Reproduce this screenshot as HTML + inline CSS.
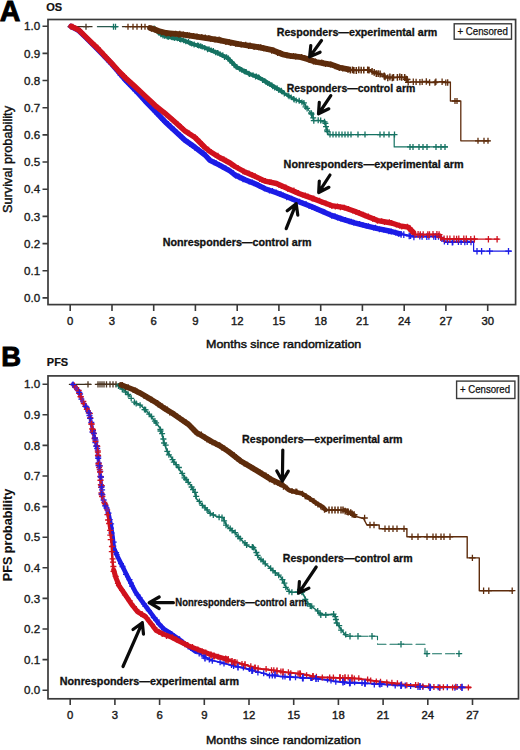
<!DOCTYPE html>
<html><head><meta charset="utf-8"><style>
html,body{margin:0;padding:0;background:#fff;width:520px;height:750px;overflow:hidden}
svg text{font-family:"Liberation Sans", sans-serif}
</style></head><body>
<svg width="520" height="750" viewBox="0 0 520 750" style="display:block;font-family:'Liberation Sans', sans-serif">
<rect width="520" height="750" fill="#fff"/>
<text x="-0.3" y="20.9" font-size="28.60" font-weight="bold" text-anchor="start" fill="#000"  stroke="#000" stroke-width="0.90">A</text>
<text x="46.3" y="10.9" font-size="11.00" font-weight="bold" text-anchor="start" fill="#111"  stroke="#111" stroke-width="0.20">OS</text>
<rect x="48.0" y="19.5" width="467.6" height="285.1" fill="none" stroke="#3a3a3a" stroke-width="1.7"/>
<text x="40.2" y="302.0" font-size="11.60" font-weight="normal" text-anchor="end" fill="#1a1a1a"  stroke="#1a1a1a" stroke-width="0.35">0.0</text>
<text x="40.2" y="274.8" font-size="11.60" font-weight="normal" text-anchor="end" fill="#1a1a1a"  stroke="#1a1a1a" stroke-width="0.35">0.1</text>
<text x="40.2" y="247.7" font-size="11.60" font-weight="normal" text-anchor="end" fill="#1a1a1a"  stroke="#1a1a1a" stroke-width="0.35">0.2</text>
<text x="40.2" y="220.5" font-size="11.60" font-weight="normal" text-anchor="end" fill="#1a1a1a"  stroke="#1a1a1a" stroke-width="0.35">0.3</text>
<text x="40.2" y="193.3" font-size="11.60" font-weight="normal" text-anchor="end" fill="#1a1a1a"  stroke="#1a1a1a" stroke-width="0.35">0.4</text>
<text x="40.2" y="166.1" font-size="11.60" font-weight="normal" text-anchor="end" fill="#1a1a1a"  stroke="#1a1a1a" stroke-width="0.35">0.5</text>
<text x="40.2" y="139.0" font-size="11.60" font-weight="normal" text-anchor="end" fill="#1a1a1a"  stroke="#1a1a1a" stroke-width="0.35">0.6</text>
<text x="40.2" y="111.8" font-size="11.60" font-weight="normal" text-anchor="end" fill="#1a1a1a"  stroke="#1a1a1a" stroke-width="0.35">0.7</text>
<text x="40.2" y="84.6" font-size="11.60" font-weight="normal" text-anchor="end" fill="#1a1a1a"  stroke="#1a1a1a" stroke-width="0.35">0.8</text>
<text x="40.2" y="57.5" font-size="11.60" font-weight="normal" text-anchor="end" fill="#1a1a1a"  stroke="#1a1a1a" stroke-width="0.35">0.9</text>
<text x="40.2" y="30.3" font-size="11.60" font-weight="normal" text-anchor="end" fill="#1a1a1a"  stroke="#1a1a1a" stroke-width="0.35">1.0</text>
<text x="70.2" y="324.9" font-size="11.30" font-weight="normal" text-anchor="middle" fill="#1a1a1a"  stroke="#1a1a1a" stroke-width="0.40">0</text>
<text x="112.0" y="324.9" font-size="11.30" font-weight="normal" text-anchor="middle" fill="#1a1a1a"  stroke="#1a1a1a" stroke-width="0.40">3</text>
<text x="153.7" y="324.9" font-size="11.30" font-weight="normal" text-anchor="middle" fill="#1a1a1a"  stroke="#1a1a1a" stroke-width="0.40">6</text>
<text x="195.4" y="324.9" font-size="11.30" font-weight="normal" text-anchor="middle" fill="#1a1a1a"  stroke="#1a1a1a" stroke-width="0.40">9</text>
<text x="237.2" y="324.9" font-size="11.30" font-weight="normal" text-anchor="middle" fill="#1a1a1a"  stroke="#1a1a1a" stroke-width="0.40">12</text>
<text x="278.9" y="324.9" font-size="11.30" font-weight="normal" text-anchor="middle" fill="#1a1a1a"  stroke="#1a1a1a" stroke-width="0.40">15</text>
<text x="320.7" y="324.9" font-size="11.30" font-weight="normal" text-anchor="middle" fill="#1a1a1a"  stroke="#1a1a1a" stroke-width="0.40">18</text>
<text x="362.4" y="324.9" font-size="11.30" font-weight="normal" text-anchor="middle" fill="#1a1a1a"  stroke="#1a1a1a" stroke-width="0.40">21</text>
<text x="404.2" y="324.9" font-size="11.30" font-weight="normal" text-anchor="middle" fill="#1a1a1a"  stroke="#1a1a1a" stroke-width="0.40">24</text>
<text x="445.9" y="324.9" font-size="11.30" font-weight="normal" text-anchor="middle" fill="#1a1a1a"  stroke="#1a1a1a" stroke-width="0.40">27</text>
<text x="487.7" y="324.9" font-size="11.30" font-weight="normal" text-anchor="middle" fill="#1a1a1a"  stroke="#1a1a1a" stroke-width="0.40">30</text>
<path d="M42.5 297.9H48.0M42.5 270.7H48.0M42.5 243.6H48.0M42.5 216.4H48.0M42.5 189.2H48.0M42.5 162.0H48.0M42.5 134.9H48.0M42.5 107.7H48.0M42.5 80.5H48.0M42.5 53.4H48.0M42.5 26.2H48.0M70.2 304.6V310.9M112.0 304.6V310.9M153.7 304.6V310.9M195.4 304.6V310.9M237.2 304.6V310.9M278.9 304.6V310.9M320.7 304.6V310.9M362.4 304.6V310.9M404.2 304.6V310.9M445.9 304.6V310.9M487.7 304.6V310.9" stroke="#3a3a3a" stroke-width="1.6" fill="none"/>
<text x="206.0" y="347.6" font-size="11.20" font-weight="normal" text-anchor="start" fill="#111" textLength="155.3" lengthAdjust="spacingAndGlyphs"  stroke="#111" stroke-width="0.45">Months since randomization</text>
<text transform="translate(11.6 159.5) rotate(-90)" x="0" y="0" font-size="12.20" font-weight="normal" text-anchor="middle" fill="#111" stroke="#111" stroke-width="0.40" textLength="107.0" lengthAdjust="spacingAndGlyphs">Survival probability</text>
<rect x="454.2" y="23.8" width="57.3" height="15.4" fill="#fff" stroke="#3a3a3a" stroke-width="1.4"/>
<text x="457.4" y="35.1" font-size="10.00" font-weight="normal" text-anchor="start" fill="#111" textLength="50.5" lengthAdjust="spacingAndGlyphs" stroke="#111" stroke-width="0.25">+ Censored</text>
<text x="1.2" y="366.3" font-size="27.40" font-weight="bold" text-anchor="start" fill="#000"  stroke="#000" stroke-width="0.90">B</text>
<text x="46.8" y="365.8" font-size="11.00" font-weight="bold" text-anchor="start" fill="#111"  stroke="#111" stroke-width="0.20">PFS</text>
<rect x="48.0" y="375.9" width="470.5" height="322.9" fill="none" stroke="#3a3a3a" stroke-width="1.7"/>
<text x="40.2" y="694.3" font-size="11.60" font-weight="normal" text-anchor="end" fill="#1a1a1a"  stroke="#1a1a1a" stroke-width="0.35">0.0</text>
<text x="40.2" y="663.7" font-size="11.60" font-weight="normal" text-anchor="end" fill="#1a1a1a"  stroke="#1a1a1a" stroke-width="0.35">0.1</text>
<text x="40.2" y="633.1" font-size="11.60" font-weight="normal" text-anchor="end" fill="#1a1a1a"  stroke="#1a1a1a" stroke-width="0.35">0.2</text>
<text x="40.2" y="602.5" font-size="11.60" font-weight="normal" text-anchor="end" fill="#1a1a1a"  stroke="#1a1a1a" stroke-width="0.35">0.3</text>
<text x="40.2" y="571.9" font-size="11.60" font-weight="normal" text-anchor="end" fill="#1a1a1a"  stroke="#1a1a1a" stroke-width="0.35">0.4</text>
<text x="40.2" y="541.3" font-size="11.60" font-weight="normal" text-anchor="end" fill="#1a1a1a"  stroke="#1a1a1a" stroke-width="0.35">0.5</text>
<text x="40.2" y="510.7" font-size="11.60" font-weight="normal" text-anchor="end" fill="#1a1a1a"  stroke="#1a1a1a" stroke-width="0.35">0.6</text>
<text x="40.2" y="480.1" font-size="11.60" font-weight="normal" text-anchor="end" fill="#1a1a1a"  stroke="#1a1a1a" stroke-width="0.35">0.7</text>
<text x="40.2" y="449.5" font-size="11.60" font-weight="normal" text-anchor="end" fill="#1a1a1a"  stroke="#1a1a1a" stroke-width="0.35">0.8</text>
<text x="40.2" y="418.9" font-size="11.60" font-weight="normal" text-anchor="end" fill="#1a1a1a"  stroke="#1a1a1a" stroke-width="0.35">0.9</text>
<text x="40.2" y="388.3" font-size="11.60" font-weight="normal" text-anchor="end" fill="#1a1a1a"  stroke="#1a1a1a" stroke-width="0.35">1.0</text>
<text x="70.2" y="719.1" font-size="11.30" font-weight="normal" text-anchor="middle" fill="#1a1a1a"  stroke="#1a1a1a" stroke-width="0.40">0</text>
<text x="114.9" y="719.1" font-size="11.30" font-weight="normal" text-anchor="middle" fill="#1a1a1a"  stroke="#1a1a1a" stroke-width="0.40">3</text>
<text x="159.6" y="719.1" font-size="11.30" font-weight="normal" text-anchor="middle" fill="#1a1a1a"  stroke="#1a1a1a" stroke-width="0.40">6</text>
<text x="204.3" y="719.1" font-size="11.30" font-weight="normal" text-anchor="middle" fill="#1a1a1a"  stroke="#1a1a1a" stroke-width="0.40">9</text>
<text x="249.0" y="719.1" font-size="11.30" font-weight="normal" text-anchor="middle" fill="#1a1a1a"  stroke="#1a1a1a" stroke-width="0.40">12</text>
<text x="293.7" y="719.1" font-size="11.30" font-weight="normal" text-anchor="middle" fill="#1a1a1a"  stroke="#1a1a1a" stroke-width="0.40">15</text>
<text x="338.4" y="719.1" font-size="11.30" font-weight="normal" text-anchor="middle" fill="#1a1a1a"  stroke="#1a1a1a" stroke-width="0.40">18</text>
<text x="383.1" y="719.1" font-size="11.30" font-weight="normal" text-anchor="middle" fill="#1a1a1a"  stroke="#1a1a1a" stroke-width="0.40">21</text>
<text x="427.8" y="719.1" font-size="11.30" font-weight="normal" text-anchor="middle" fill="#1a1a1a"  stroke="#1a1a1a" stroke-width="0.40">24</text>
<text x="472.5" y="719.1" font-size="11.30" font-weight="normal" text-anchor="middle" fill="#1a1a1a"  stroke="#1a1a1a" stroke-width="0.40">27</text>
<path d="M42.5 690.2H48.0M42.5 659.6H48.0M42.5 629.0H48.0M42.5 598.4H48.0M42.5 567.8H48.0M42.5 537.2H48.0M42.5 506.6H48.0M42.5 476.0H48.0M42.5 445.4H48.0M42.5 414.8H48.0M42.5 384.2H48.0M70.2 698.8V705.1M114.9 698.8V705.1M159.6 698.8V705.1M204.3 698.8V705.1M249.0 698.8V705.1M293.7 698.8V705.1M338.4 698.8V705.1M383.1 698.8V705.1M427.8 698.8V705.1M472.5 698.8V705.1" stroke="#3a3a3a" stroke-width="1.6" fill="none"/>
<text x="206.0" y="743.6" font-size="11.20" font-weight="normal" text-anchor="start" fill="#111" textLength="154.8" lengthAdjust="spacingAndGlyphs"  stroke="#111" stroke-width="0.45">Months since randomization</text>
<text transform="translate(11.6 535.0) rotate(-90)" x="0" y="0" font-size="12.40" font-weight="bold" text-anchor="middle" fill="#111" stroke="#111" stroke-width="0.10" textLength="92.4" lengthAdjust="spacingAndGlyphs">PFS probability</text>
<rect x="456.6" y="381.1" width="58.3" height="17.4" fill="#fff" stroke="#3a3a3a" stroke-width="1.4"/>
<text x="460.0" y="393.1" font-size="10.00" font-weight="normal" text-anchor="start" fill="#111" textLength="50.0" lengthAdjust="spacingAndGlyphs" stroke="#111" stroke-width="0.25">+ Censored</text>
<polyline points="68.0,26.7 92.0,26.7" fill="none" stroke="#3a3020" stroke-width="1.30" stroke-linejoin="round" stroke-linecap="round" opacity="1.00" />
<polyline points="97.5,26.7 117.5,26.7" fill="none" stroke="#2a5a50" stroke-width="1.30" stroke-linejoin="round" stroke-linecap="round" opacity="1.00" />
<polyline points="122.5,26.7 151.0,26.7" fill="none" stroke="#3a3020" stroke-width="1.30" stroke-linejoin="round" stroke-linecap="round" opacity="1.00" />
<path d="M68.0 26.7h6.0M71.0 23.7v6.0" stroke="#d0121e" stroke-width="1.3" fill="none"/>
<path d="M83.0 26.7h6.0M86.0 23.7v6.0" stroke="#4a3a2a" stroke-width="1.3" fill="none"/>
<path d="M110.5 26.7h6.0M113.5 23.7v6.0" stroke="#157262" stroke-width="1.3" fill="none"/>
<path d="M112.5 26.7h6.0M115.5 23.7v6.0" stroke="#157262" stroke-width="1.3" fill="none"/>
<path d="M125.0 26.7h6.0M128.0 23.7v6.0" stroke="#5e2c0c" stroke-width="1.3" fill="none"/>
<path d="M130.0 26.7h6.0M133.0 23.7v6.0" stroke="#5e2c0c" stroke-width="1.3" fill="none"/>
<path d="M134.0 26.7h6.0M137.0 23.7v6.0" stroke="#5e2c0c" stroke-width="1.3" fill="none"/>
<path d="M138.5 26.7h6.0M141.5 23.7v6.0" stroke="#5e2c0c" stroke-width="1.3" fill="none"/>
<path d="M142.0 26.7h6.0M145.0 23.7v6.0" stroke="#5e2c0c" stroke-width="1.3" fill="none"/>
<polyline points="154.0,28.5 158.0,31.8 162.0,35.0 170.0,37.3 181.5,39.6 193.1,44.2 204.6,47.7 216.2,52.3 227.7,58.1 236.5,66.9 248.1,73.3 259.6,77.9 271.2,85.0 281.5,91.2" fill="none" stroke="#157262" stroke-width="4.00" stroke-linejoin="round" stroke-linecap="round" opacity="1.00" />
<polyline points="281.5,91.2 287.3,95.2 293.1,98.7 298.8,101.0 303.5,102.7" fill="none" stroke="#157262" stroke-width="2.40" stroke-linejoin="round" stroke-linecap="round" opacity="1.00" />
<path d="M151.3 28.4h5.6M154.1 25.6v5.6M152.5 30.3h5.6M155.3 27.5v5.6M155.0 31.7h5.6M157.8 28.9v5.6M156.1 33.0h5.6M158.9 30.2v5.6M158.0 34.4h5.6M160.8 31.6v5.6M160.2 35.7h5.6M163.0 32.9v5.6M162.0 36.1h5.6M164.8 33.3v5.6M164.2 36.4h5.6M167.0 33.6v5.6M165.4 37.3h5.6M168.2 34.5v5.6M168.9 37.1h5.6M171.7 34.3v5.6M169.4 37.5h5.6M172.2 34.7v5.6M171.5 38.2h5.6M174.3 35.4v5.6M174.7 38.5h5.6M177.5 35.7v5.6M176.8 39.2h5.6M179.6 36.4v5.6M178.0 39.6h5.6M180.8 36.8v5.6M180.9 40.5h5.6M183.7 37.7v5.6M183.0 41.4h5.6M185.8 38.6v5.6M185.7 41.8h5.6M188.5 39.0v5.6M187.3 43.2h5.6M190.1 40.4v5.6M188.9 43.8h5.6M191.7 41.0v5.6M191.4 44.4h5.6M194.2 41.6v5.6M191.3 44.8h5.6M194.1 42.0v5.6M194.8 45.2h5.6M197.6 42.4v5.6M195.9 45.6h5.6M198.7 42.8v5.6M197.9 46.0h5.6M200.7 43.2v5.6M199.4 46.7h5.6M202.2 43.9v5.6M201.9 47.8h5.6M204.7 45.0v5.6M204.7 49.5h5.6M207.5 46.7v5.6M206.2 49.0h5.6M209.0 46.2v5.6M208.4 50.3h5.6M211.2 47.5v5.6M210.6 50.8h5.6M213.4 48.0v5.6M212.7 52.5h5.6M215.5 49.7v5.6M214.5 52.8h5.6M217.3 50.0v5.6M215.1 52.9h5.6M217.9 50.1v5.6M217.3 54.1h5.6M220.1 51.3v5.6M220.0 55.0h5.6M222.8 52.2v5.6M221.7 57.3h5.6M224.5 54.5v5.6M223.8 57.1h5.6M226.6 54.3v5.6M225.4 58.0h5.6M228.2 55.2v5.6M227.2 61.0h5.6M230.0 58.2v5.6M228.9 61.9h5.6M231.7 59.1v5.6M229.5 62.8h5.6M232.3 60.0v5.6M231.5 65.5h5.6M234.3 62.7v5.6M233.3 66.8h5.6M236.1 64.0v5.6M234.1 66.9h5.6M236.9 64.1v5.6M237.1 69.1h5.6M239.9 66.3v5.6M238.9 69.9h5.6M241.7 67.1v5.6M241.3 71.2h5.6M244.1 68.4v5.6M242.2 71.8h5.6M245.0 69.0v5.6M243.4 71.8h5.6M246.2 69.0v5.6M246.1 73.6h5.6M248.9 70.8v5.6M246.8 74.3h5.6M249.6 71.5v5.6M250.2 75.0h5.6M253.0 72.2v5.6M252.7 76.6h5.6M255.5 73.8v5.6M253.6 76.2h5.6M256.4 73.4v5.6M255.3 77.1h5.6M258.1 74.3v5.6M256.4 77.5h5.6M259.2 74.7v5.6M259.8 80.1h5.6M262.6 77.3v5.6M262.0 80.8h5.6M264.8 78.0v5.6M263.2 82.1h5.6M266.0 79.3v5.6M264.9 83.3h5.6M267.7 80.5v5.6M266.7 84.0h5.6M269.5 81.2v5.6M269.0 85.1h5.6M271.8 82.3v5.6M269.9 86.5h5.6M272.7 83.7v5.6M271.9 87.6h5.6M274.7 84.8v5.6M274.3 88.1h5.6M277.1 85.3v5.6M276.0 90.2h5.6M278.8 87.4v5.6M278.4 90.5h5.6M281.2 87.7v5.6M278.7 91.1h5.6M281.5 88.3v5.6M281.7 93.3h5.6M284.5 90.5v5.6M281.5 93.8h5.6M284.3 91.0v5.6M285.3 95.5h5.6M288.1 92.7v5.6M286.3 96.4h5.6M289.1 93.6v5.6M288.4 97.2h5.6M291.2 94.4v5.6M290.9 98.9h5.6M293.7 96.1v5.6M291.4 99.6h5.6M294.2 96.8v5.6M293.4 100.4h5.6M296.2 97.6v5.6M296.3 100.6h5.6M299.1 97.8v5.6M296.5 101.0h5.6M299.3 98.2v5.6M299.2 102.4h5.6M302.0 99.6v5.6" stroke="#157262" stroke-width="1.20" fill="none" opacity="1.00"/>
<polyline points="303.5,102.7 309.2,110.8 312.7,115.4 313.8,120.6 324.2,120.6 325.4,125.4 327.0,130.0 328.5,134.6" fill="none" stroke="#157262" stroke-width="1.20" stroke-linejoin="round" stroke-linecap="round" opacity="1.00" />
<path d="M300.9 102.9h6.0M303.9 99.9v6.0M302.5 106.8h6.0M305.5 103.8v6.0M304.1 108.4h6.0M307.1 105.4v6.0M308.1 113.0h6.0M311.1 110.0v6.0M308.6 114.2h6.0M311.6 111.2v6.0M310.2 117.8h6.0M313.2 114.8v6.0M310.8 120.7h6.0M313.8 117.7v6.0M315.2 120.3h6.0M318.2 117.3v6.0M317.7 120.6h6.0M320.7 117.6v6.0M321.5 121.8h6.0M324.5 118.8v6.0M322.4 123.4h6.0M325.4 120.4v6.0M323.0 126.7h6.0M326.0 123.7v6.0M324.0 130.1h6.0M327.0 127.1v6.0M324.4 131.6h6.0M327.4 128.6v6.0" stroke="#157262" stroke-width="1.30" fill="none" opacity="1.00"/>
<polyline points="328.5,134.6 394.2,134.6 394.2,146.9 447.5,146.9" fill="none" stroke="#157262" stroke-width="1.20" stroke-linejoin="round" stroke-linecap="round" opacity="1.00" />
<path d="M327.0 134.6h6.0M330.0 131.6v6.0" stroke="#157262" stroke-width="1.3" fill="none"/>
<path d="M330.0 134.6h6.0M333.0 131.6v6.0" stroke="#157262" stroke-width="1.3" fill="none"/>
<path d="M333.0 134.6h6.0M336.0 131.6v6.0" stroke="#157262" stroke-width="1.3" fill="none"/>
<path d="M336.0 134.6h6.0M339.0 131.6v6.0" stroke="#157262" stroke-width="1.3" fill="none"/>
<path d="M339.0 134.6h6.0M342.0 131.6v6.0" stroke="#157262" stroke-width="1.3" fill="none"/>
<path d="M342.0 134.6h6.0M345.0 131.6v6.0" stroke="#157262" stroke-width="1.3" fill="none"/>
<path d="M345.0 134.6h6.0M348.0 131.6v6.0" stroke="#157262" stroke-width="1.3" fill="none"/>
<path d="M348.0 134.6h6.0M351.0 131.6v6.0" stroke="#157262" stroke-width="1.3" fill="none"/>
<path d="M355.0 134.6h6.0M358.0 131.6v6.0" stroke="#157262" stroke-width="1.3" fill="none"/>
<path d="M362.0 134.6h6.0M365.0 131.6v6.0" stroke="#157262" stroke-width="1.3" fill="none"/>
<path d="M377.0 134.6h6.0M380.0 131.6v6.0" stroke="#157262" stroke-width="1.3" fill="none"/>
<path d="M381.0 134.6h6.0M384.0 131.6v6.0" stroke="#157262" stroke-width="1.3" fill="none"/>
<path d="M386.0 134.6h6.0M389.0 131.6v6.0" stroke="#157262" stroke-width="1.3" fill="none"/>
<path d="M391.5 134.6h6.0M394.5 131.6v6.0" stroke="#157262" stroke-width="1.3" fill="none"/>
<path d="M407.0 146.9h6.0M410.0 143.9v6.0" stroke="#157262" stroke-width="1.3" fill="none"/>
<path d="M410.0 146.9h6.0M413.0 143.9v6.0" stroke="#157262" stroke-width="1.3" fill="none"/>
<path d="M416.0 146.9h6.0M419.0 143.9v6.0" stroke="#157262" stroke-width="1.3" fill="none"/>
<path d="M420.0 146.9h6.0M423.0 143.9v6.0" stroke="#157262" stroke-width="1.3" fill="none"/>
<path d="M424.0 146.9h6.0M427.0 143.9v6.0" stroke="#157262" stroke-width="1.3" fill="none"/>
<path d="M433.0 146.9h6.0M436.0 143.9v6.0" stroke="#157262" stroke-width="1.3" fill="none"/>
<path d="M438.0 146.9h6.0M441.0 143.9v6.0" stroke="#157262" stroke-width="1.3" fill="none"/>
<path d="M442.0 146.9h6.0M445.0 143.9v6.0" stroke="#157262" stroke-width="1.3" fill="none"/>
<polyline points="150.0,28.0 154.0,29.2 158.5,31.0 166.2,33.0 170.0,33.3 181.5,34.4 193.1,36.2 204.6,37.9 216.2,39.6 227.7,41.9 241.0,44.5 259.6,47.3 271.2,49.8 282.7,54.3 290.0,55.8 300.8,57.2 307.0,58.9 316.2,62.0 331.5,64.6 339.2,67.5 348.5,69.4" fill="none" stroke="#5e2c0c" stroke-width="5.80" stroke-linejoin="round" stroke-linecap="round" opacity="1.00" />
<path d="M148.5 28.7h6.0M151.5 25.7v6.0M152.4 29.4h6.0M155.4 26.4v6.0M155.6 30.9h6.0M158.6 27.9v6.0M158.7 32.5h6.0M161.7 29.5v6.0M162.8 33.2h6.0M165.8 30.2v6.0M163.5 33.5h6.0M166.5 30.5v6.0M167.7 33.9h6.0M170.7 30.9v6.0M172.7 33.7h6.0M175.7 30.7v6.0M175.9 34.7h6.0M178.9 31.7v6.0M176.8 33.8h6.0M179.8 30.8v6.0M180.4 34.4h6.0M183.4 31.4v6.0M184.3 35.0h6.0M187.3 32.0v6.0M186.4 35.4h6.0M189.4 32.4v6.0M190.6 36.1h6.0M193.6 33.1v6.0M194.0 36.5h6.0M197.0 33.5v6.0M198.8 37.1h6.0M201.8 34.1v6.0M202.3 37.5h6.0M205.3 34.5v6.0M205.9 38.0h6.0M208.9 35.0v6.0M207.6 38.8h6.0M210.6 35.8v6.0M212.0 39.5h6.0M215.0 36.5v6.0M216.1 39.6h6.0M219.1 36.6v6.0M217.7 40.3h6.0M220.7 37.3v6.0M222.9 41.9h6.0M225.9 38.9v6.0M226.3 42.3h6.0M229.3 39.3v6.0M227.8 43.0h6.0M230.8 40.0v6.0M232.9 43.9h6.0M235.9 40.9v6.0M235.0 44.0h6.0M238.0 41.0v6.0M238.2 44.4h6.0M241.2 41.4v6.0M242.7 44.8h6.0M245.7 41.8v6.0M245.6 46.0h6.0M248.6 43.0v6.0M247.1 45.5h6.0M250.1 42.5v6.0M251.1 47.0h6.0M254.1 44.0v6.0M255.6 47.3h6.0M258.6 44.3v6.0M257.7 47.3h6.0M260.7 44.3v6.0M260.6 48.2h6.0M263.6 45.2v6.0M264.1 48.9h6.0M267.1 45.9v6.0M268.7 50.7h6.0M271.7 47.7v6.0M270.8 50.6h6.0M273.8 47.6v6.0M274.6 53.0h6.0M277.6 50.0v6.0M277.5 53.3h6.0M280.5 50.3v6.0M279.1 54.1h6.0M282.1 51.1v6.0M283.9 55.2h6.0M286.9 52.2v6.0M287.8 56.0h6.0M290.8 53.0v6.0M290.6 56.1h6.0M293.6 53.1v6.0M292.7 56.5h6.0M295.7 53.5v6.0M298.7 57.0h6.0M301.7 54.0v6.0M301.7 58.0h6.0M304.7 55.0v6.0M305.8 59.5h6.0M308.8 56.5v6.0M306.7 59.9h6.0M309.7 56.9v6.0M310.4 61.4h6.0M313.4 58.4v6.0M312.5 61.6h6.0M315.5 58.6v6.0M318.8 62.4h6.0M321.8 59.4v6.0M320.3 63.3h6.0M323.3 60.3v6.0M322.4 64.1h6.0M325.4 61.1v6.0M327.7 64.5h6.0M330.7 61.5v6.0M332.1 66.2h6.0M335.1 63.2v6.0M334.3 67.0h6.0M337.3 64.0v6.0M336.3 67.9h6.0M339.3 64.9v6.0M339.7 68.5h6.0M342.7 65.5v6.0M345.0 69.8h6.0M348.0 66.8v6.0" stroke="#5e2c0c" stroke-width="1.30" fill="none" opacity="1.00"/>
<polyline points="348.5,69.4 355.4,70.4 370.8,70.4 375.4,73.5 383.0,75.0 386.2,77.3 406.2,77.3 407.7,81.9 450.4,82.1 450.4,101.0 460.8,101.0 460.8,140.8 489.2,140.8" fill="none" stroke="#5e2c0c" stroke-width="1.30" stroke-linejoin="round" stroke-linecap="round" opacity="1.00" />
<path d="M346.9 70.2h6.8M350.3 66.8v6.8M349.1 69.8h6.8M352.5 66.4v6.8M350.5 70.4h6.8M353.9 67.0v6.8M352.9 70.5h6.8M356.3 67.1v6.8M355.4 69.9h6.8M358.8 66.5v6.8M357.8 70.1h6.8M361.2 66.7v6.8M360.4 70.2h6.8M363.8 66.8v6.8M364.3 69.8h6.8M367.7 66.4v6.8M365.6 70.1h6.8M369.0 66.7v6.8M368.7 71.4h6.8M372.1 68.0v6.8M370.8 72.3h6.8M374.2 68.9v6.8M372.9 73.6h6.8M376.3 70.2v6.8M374.8 73.6h6.8M378.2 70.2v6.8M376.7 74.0h6.8M380.1 70.6v6.8M380.8 76.0h6.8M384.2 72.6v6.8M381.6 76.8h6.8M385.0 73.4v6.8M384.4 77.9h6.8M387.8 74.5v6.8M386.5 77.0h6.8M389.9 73.6v6.8M388.9 77.8h6.8M392.3 74.4v6.8M390.1 77.4h6.8M393.5 74.0v6.8M394.0 77.3h6.8M397.4 73.9v6.8M396.4 76.9h6.8M399.8 73.5v6.8M398.3 77.3h6.8M401.7 73.9v6.8M401.3 77.5h6.8M404.7 74.1v6.8M402.9 79.2h6.8M406.3 75.8v6.8M403.7 79.4h6.8M407.1 76.0v6.8" stroke="#5e2c0c" stroke-width="1.50" fill="none" opacity="1.00"/>
<path d="M405.0 82.3h6.4M408.2 79.1v6.4M410.1 81.8h6.4M413.3 78.6v6.4M412.9 81.9h6.4M416.1 78.7v6.4M416.7 82.1h6.4M419.9 78.9v6.4M419.0 81.9h6.4M422.2 78.7v6.4M423.1 81.5h6.4M426.3 78.3v6.4M426.4 82.5h6.4M429.6 79.3v6.4M431.8 82.6h6.4M435.0 79.4v6.4M432.7 81.8h6.4M435.9 78.6v6.4M438.9 81.7h6.4M442.1 78.5v6.4M442.6 82.6h6.4M445.8 79.4v6.4M444.5 82.5h6.4M447.7 79.3v6.4" stroke="#5e2c0c" stroke-width="1.30" fill="none" opacity="1.00"/>
<path d="M452.0 101.0h6.0M455.0 98.0v6.0" stroke="#5e2c0c" stroke-width="1.3" fill="none"/>
<path d="M454.0 101.0h6.0M457.0 98.0v6.0" stroke="#5e2c0c" stroke-width="1.3" fill="none"/>
<path d="M475.0 140.8h6.0M478.0 137.8v6.0" stroke="#5e2c0c" stroke-width="1.3" fill="none"/>
<path d="M481.0 140.8h6.0M484.0 137.8v6.0" stroke="#5e2c0c" stroke-width="1.3" fill="none"/>
<path d="M485.0 140.8h6.0M488.0 137.8v6.0" stroke="#5e2c0c" stroke-width="1.3" fill="none"/>
<polyline points="71.0,26.3 78.7,30.5 85.0,36.7 92.5,44.2 97.5,49.2 105.0,56.8 111.5,63.7 118.0,71.2 125.0,79.5 135.0,89.8 145.0,100.8 155.0,111.2 165.0,121.7 175.0,131.0 185.0,140.3 195.0,147.3 205.0,155.0 210.0,160.3 220.0,165.3 230.0,171.0 235.0,175.0 245.0,179.7 255.0,183.7 265.0,188.7 276.5,192.7 288.1,197.3 299.6,201.9 311.2,206.5 322.7,211.5 331.5,215.4 343.1,219.4 354.6,222.9 366.2,225.8 377.7,228.7 391.5,231.5 400.0,233.8" fill="none" stroke="#1c1ce6" stroke-width="5.40" stroke-linejoin="round" stroke-linecap="round" opacity="1.00" />
<path d="M69.7 27.0h5.6M72.5 24.2v5.6M74.5 29.7h5.6M77.3 26.9v5.6M76.8 31.0h5.6M79.6 28.2v5.6M78.7 33.4h5.6M81.5 30.6v5.6M81.6 35.9h5.6M84.4 33.1v5.6M82.9 37.7h5.6M85.7 34.9v5.6M86.5 40.8h5.6M89.3 38.0v5.6M88.5 43.1h5.6M91.3 40.3v5.6M92.2 46.1h5.6M95.0 43.3v5.6M94.6 49.1h5.6M97.4 46.3v5.6M96.0 50.2h5.6M98.8 47.4v5.6M98.6 52.3h5.6M101.4 49.5v5.6M103.0 56.9h5.6M105.8 54.1v5.6M102.9 58.2h5.6M105.7 55.4v5.6M106.3 61.9h5.6M109.1 59.1v5.6M108.7 63.3h5.6M111.5 60.5v5.6M110.7 66.2h5.6M113.5 63.4v5.6M114.5 70.7h5.6M117.3 67.9v5.6M116.7 73.4h5.6M119.5 70.6v5.6M117.6 75.1h5.6M120.4 72.3v5.6M120.7 77.7h5.6M123.5 74.9v5.6M122.3 80.0h5.6M125.1 77.2v5.6M126.4 83.8h5.6M129.2 81.0v5.6M128.3 86.1h5.6M131.1 83.3v5.6M130.6 87.4h5.6M133.4 84.6v5.6M132.2 90.7h5.6M135.0 87.9v5.6M135.4 92.4h5.6M138.2 89.6v5.6M139.3 97.2h5.6M142.1 94.4v5.6M140.5 98.8h5.6M143.3 96.0v5.6M142.0 100.5h5.6M144.8 97.7v5.6M146.2 105.1h5.6M149.0 102.3v5.6M149.8 107.6h5.6M152.6 104.8v5.6M151.1 109.1h5.6M153.9 106.3v5.6M152.1 111.7h5.6M154.9 108.9v5.6M155.3 114.0h5.6M158.1 111.2v5.6M156.7 116.4h5.6M159.5 113.6v5.6M160.1 120.2h5.6M162.9 117.4v5.6M161.8 121.5h5.6M164.6 118.7v5.6M165.7 123.9h5.6M168.5 121.1v5.6M167.8 127.4h5.6M170.6 124.6v5.6M171.6 129.6h5.6M174.4 126.8v5.6M174.1 132.8h5.6M176.9 130.0v5.6M177.5 135.2h5.6M180.3 132.4v5.6M179.2 137.7h5.6M182.0 134.9v5.6M181.3 139.4h5.6M184.1 136.6v5.6M185.3 142.2h5.6M188.1 139.4v5.6M187.0 144.1h5.6M189.8 141.3v5.6M189.9 145.6h5.6M192.7 142.8v5.6M191.8 147.7h5.6M194.6 144.9v5.6M196.3 150.2h5.6M199.1 147.4v5.6M201.0 153.1h5.6M203.8 150.3v5.6M200.8 154.2h5.6M203.6 151.4v5.6M205.2 158.1h5.6M208.0 155.3v5.6M207.3 160.1h5.6M210.1 157.3v5.6M211.3 162.4h5.6M214.1 159.6v5.6M213.2 162.7h5.6M216.0 159.9v5.6M216.5 165.1h5.6M219.3 162.3v5.6M219.6 166.8h5.6M222.4 164.0v5.6M223.0 168.3h5.6M225.8 165.5v5.6M225.9 170.2h5.6M228.7 167.4v5.6M230.7 173.0h5.6M233.5 170.2v5.6M232.7 175.7h5.6M235.5 172.9v5.6M236.1 176.4h5.6M238.9 173.6v5.6M236.6 177.4h5.6M239.4 174.6v5.6M240.2 179.5h5.6M243.0 176.7v5.6M246.3 181.7h5.6M249.1 178.9v5.6M249.5 182.2h5.6M252.3 179.4v5.6M251.3 183.5h5.6M254.1 180.7v5.6M255.7 185.2h5.6M258.5 182.4v5.6M256.6 186.0h5.6M259.4 183.2v5.6M261.5 188.5h5.6M264.3 185.7v5.6M266.6 190.6h5.6M269.4 187.8v5.6M269.7 190.8h5.6M272.5 188.0v5.6M273.4 192.2h5.6M276.2 189.4v5.6M276.8 193.7h5.6M279.6 190.9v5.6M278.2 194.0h5.6M281.0 191.2v5.6M280.5 195.2h5.6M283.3 192.4v5.6M283.9 197.4h5.6M286.7 194.6v5.6M288.9 198.5h5.6M291.7 195.7v5.6M292.5 200.8h5.6M295.3 198.0v5.6M296.8 201.6h5.6M299.6 198.8v5.6M299.9 203.2h5.6M302.7 200.4v5.6M303.2 203.7h5.6M306.0 200.9v5.6M306.3 206.1h5.6M309.1 203.3v5.6M309.2 207.2h5.6M312.0 204.4v5.6M311.9 208.0h5.6M314.7 205.2v5.6M313.7 208.7h5.6M316.5 205.9v5.6M320.3 211.5h5.6M323.1 208.7v5.6M321.9 212.0h5.6M324.7 209.2v5.6M327.2 214.5h5.6M330.0 211.7v5.6M329.0 215.9h5.6M331.8 213.1v5.6M332.2 216.0h5.6M335.0 213.2v5.6M334.7 217.6h5.6M337.5 214.8v5.6M338.0 218.6h5.6M340.8 215.8v5.6M342.6 219.9h5.6M345.4 217.1v5.6M346.4 221.5h5.6M349.2 218.7v5.6M348.5 221.5h5.6M351.3 218.7v5.6M351.0 222.6h5.6M353.8 219.8v5.6M356.8 223.7h5.6M359.6 220.9v5.6M360.1 224.7h5.6M362.9 221.9v5.6M363.5 225.8h5.6M366.3 223.0v5.6M365.7 226.0h5.6M368.5 223.2v5.6M370.8 227.7h5.6M373.6 224.9v5.6M372.7 227.6h5.6M375.5 224.8v5.6M376.6 229.4h5.6M379.4 226.6v5.6M380.9 229.7h5.6M383.7 226.9v5.6M386.0 231.5h5.6M388.8 228.7v5.6M388.5 231.6h5.6M391.3 228.8v5.6M392.8 232.6h5.6M395.6 229.8v5.6M395.6 233.9h5.6M398.4 231.1v5.6" stroke="#1c1ce6" stroke-width="1.20" fill="none" opacity="1.00"/>
<polyline points="400.0,233.8 413.5,236.5 440.0,236.5 445.0,241.8 473.6,241.8" fill="none" stroke="#1c1ce6" stroke-width="2.20" stroke-linejoin="round" stroke-linecap="round" opacity="1.00" />
<path d="M397.7 234.3h6.8M401.1 230.9v6.8M400.4 234.6h6.8M403.8 231.2v6.8M405.8 235.9h6.8M409.2 232.5v6.8M407.2 235.7h6.8M410.6 232.3v6.8M410.5 236.8h6.8M413.9 233.4v6.8M416.4 236.2h6.8M419.8 232.8v6.8M418.7 236.4h6.8M422.1 233.0v6.8M423.4 236.6h6.8M426.8 233.2v6.8M425.5 236.3h6.8M428.9 232.9v6.8M430.4 236.3h6.8M433.8 232.9v6.8M432.3 236.7h6.8M435.7 233.3v6.8M435.1 236.3h6.8M438.5 232.9v6.8M437.3 237.4h6.8M440.7 234.0v6.8M441.0 241.1h6.8M444.4 237.7v6.8M444.3 241.6h6.8M447.7 238.2v6.8M448.9 242.0h6.8M452.3 238.6v6.8M449.4 241.8h6.8M452.8 238.4v6.8M455.0 241.5h6.8M458.4 238.1v6.8M457.7 241.6h6.8M461.1 238.2v6.8M461.4 241.8h6.8M464.8 238.4v6.8M463.8 241.7h6.8M467.2 238.3v6.8M467.6 241.8h6.8M471.0 238.4v6.8" stroke="#1c1ce6" stroke-width="1.30" fill="none" opacity="1.00"/>
<polyline points="473.6,241.8 473.6,251.2 511.2,251.2" fill="none" stroke="#1c1ce6" stroke-width="1.20" stroke-linejoin="round" stroke-linecap="round" opacity="1.00" />
<path d="M473.8 251.2h6.4M477.0 248.0v6.4" stroke="#1c1ce6" stroke-width="1.3" fill="none"/>
<path d="M478.4 251.2h6.4M481.6 248.0v6.4" stroke="#1c1ce6" stroke-width="1.3" fill="none"/>
<path d="M486.5 251.2h6.4M489.7 248.0v6.4" stroke="#1c1ce6" stroke-width="1.3" fill="none"/>
<path d="M505.3 251.2h6.4M508.5 248.0v6.4" stroke="#1c1ce6" stroke-width="1.3" fill="none"/>
<polyline points="71.0,26.3 78.7,30.0 85.0,36.2 92.5,43.5 97.5,48.3 100.0,50.8 105.0,56.3 111.5,63.2 118.0,70.3 125.0,77.5 135.0,86.5 145.0,95.9 155.0,105.3 165.0,113.3 175.0,122.0 185.0,131.0 195.0,137.5 205.0,147.5 210.0,151.5 220.0,157.7 230.0,163.0 235.0,166.5 245.0,172.0 255.0,176.3 265.0,181.2 276.5,183.5 288.1,188.7 299.6,193.8 311.2,197.9 322.7,202.2 331.5,205.6 343.1,207.3 354.6,211.3 366.2,216.0 377.7,220.6 391.5,223.0 400.0,225.8 408.0,227.1 413.5,232.5" fill="none" stroke="#d0121e" stroke-width="5.40" stroke-linejoin="round" stroke-linecap="round" opacity="1.00" />
<path d="M70.0 26.6h5.6M72.8 23.8v5.6M72.9 28.3h5.6M75.7 25.5v5.6M76.1 30.4h5.6M78.9 27.6v5.6M78.8 32.4h5.6M81.6 29.6v5.6M79.7 33.5h5.6M82.5 30.7v5.6M84.1 37.9h5.6M86.9 35.1v5.6M86.0 40.2h5.6M88.8 37.4v5.6M88.1 42.5h5.6M90.9 39.7v5.6M92.2 45.3h5.6M95.0 42.5v5.6M95.0 47.6h5.6M97.8 44.8v5.6M96.3 49.8h5.6M99.1 47.0v5.6M97.8 51.3h5.6M100.6 48.5v5.6M101.5 54.6h5.6M104.3 51.8v5.6M102.8 57.4h5.6M105.6 54.6v5.6M104.8 59.2h5.6M107.6 56.4v5.6M108.5 62.8h5.6M111.3 60.0v5.6M110.2 65.0h5.6M113.0 62.2v5.6M112.8 67.9h5.6M115.6 65.1v5.6M115.5 70.3h5.6M118.3 67.5v5.6M117.7 72.7h5.6M120.5 69.9v5.6M121.3 75.7h5.6M124.1 72.9v5.6M122.7 77.8h5.6M125.5 75.0v5.6M126.4 81.6h5.6M129.2 78.8v5.6M129.1 83.5h5.6M131.9 80.7v5.6M130.7 85.3h5.6M133.5 82.5v5.6M132.2 86.8h5.6M135.0 84.0v5.6M136.7 90.7h5.6M139.5 87.9v5.6M139.1 92.8h5.6M141.9 90.0v5.6M142.3 96.3h5.6M145.1 93.5v5.6M143.2 97.3h5.6M146.0 94.5v5.6M147.6 100.7h5.6M150.4 97.9v5.6M150.7 104.2h5.6M153.5 101.4v5.6M152.1 106.0h5.6M154.9 103.2v5.6M154.9 107.6h5.6M157.7 104.8v5.6M156.4 109.2h5.6M159.2 106.4v5.6M162.0 113.0h5.6M164.8 110.2v5.6M162.8 114.4h5.6M165.6 111.6v5.6M166.6 117.0h5.6M169.4 114.2v5.6M169.8 119.7h5.6M172.6 116.9v5.6M170.5 120.5h5.6M173.3 117.7v5.6M175.0 123.9h5.6M177.8 121.1v5.6M177.8 126.9h5.6M180.6 124.1v5.6M178.4 127.1h5.6M181.2 124.3v5.6M181.5 130.2h5.6M184.3 127.4v5.6M185.0 132.6h5.6M187.8 129.8v5.6M186.7 133.4h5.6M189.5 130.6v5.6M192.1 136.7h5.6M194.9 133.9v5.6M192.2 137.6h5.6M195.0 134.8v5.6M197.0 141.6h5.6M199.8 138.8v5.6M197.1 142.2h5.6M199.9 139.4v5.6M200.3 146.4h5.6M203.1 143.6v5.6M204.7 149.6h5.6M207.5 146.8v5.6M205.8 149.6h5.6M208.6 146.8v5.6M208.6 152.2h5.6M211.4 149.4v5.6M212.6 155.0h5.6M215.4 152.2v5.6M215.2 155.6h5.6M218.0 152.8v5.6M217.4 158.1h5.6M220.2 155.3v5.6M221.1 159.0h5.6M223.9 156.2v5.6M223.3 160.6h5.6M226.1 157.8v5.6M228.3 164.5h5.6M231.1 161.7v5.6M231.4 165.9h5.6M234.2 163.1v5.6M235.1 168.0h5.6M237.9 165.2v5.6M235.5 168.0h5.6M238.3 165.2v5.6M240.1 171.4h5.6M242.9 168.6v5.6M241.5 171.6h5.6M244.3 168.8v5.6M246.2 173.2h5.6M249.0 170.4v5.6M249.6 175.1h5.6M252.4 172.3v5.6M252.6 176.2h5.6M255.4 173.4v5.6M256.8 179.2h5.6M259.6 176.4v5.6M259.3 180.2h5.6M262.1 177.4v5.6M262.7 180.7h5.6M265.5 177.9v5.6M266.9 182.1h5.6M269.7 179.3v5.6M268.4 182.2h5.6M271.2 179.4v5.6M274.6 183.8h5.6M277.4 181.0v5.6M276.2 185.2h5.6M279.0 182.4v5.6M278.6 186.3h5.6M281.4 183.5v5.6M283.1 187.3h5.6M285.9 184.5v5.6M284.8 189.0h5.6M287.6 186.2v5.6M291.1 190.4h5.6M293.9 187.6v5.6M292.6 191.9h5.6M295.4 189.1v5.6M295.6 192.7h5.6M298.4 189.9v5.6M299.7 194.7h5.6M302.5 191.9v5.6M302.5 195.4h5.6M305.3 192.6v5.6M305.2 196.3h5.6M308.0 193.5v5.6M309.4 198.6h5.6M312.2 195.8v5.6M311.0 198.4h5.6M313.8 195.6v5.6M316.8 200.5h5.6M319.6 197.7v5.6M318.6 201.8h5.6M321.4 199.0v5.6M323.1 203.4h5.6M325.9 200.6v5.6M326.9 204.9h5.6M329.7 202.1v5.6M329.1 206.1h5.6M331.9 203.3v5.6M332.5 206.7h5.6M335.3 203.9v5.6M334.8 206.2h5.6M337.6 203.4v5.6M337.6 207.4h5.6M340.4 204.6v5.6M341.5 207.6h5.6M344.3 204.8v5.6M345.7 208.7h5.6M348.5 205.9v5.6M349.9 210.7h5.6M352.7 207.9v5.6M353.1 212.0h5.6M355.9 209.2v5.6M356.5 212.9h5.6M359.3 210.1v5.6M360.5 214.5h5.6M363.3 211.7v5.6M362.2 215.5h5.6M365.0 212.7v5.6M365.6 216.4h5.6M368.4 213.6v5.6M369.8 218.9h5.6M372.6 216.1v5.6M371.4 218.7h5.6M374.2 215.9v5.6M374.5 220.9h5.6M377.3 218.1v5.6M378.9 221.0h5.6M381.7 218.2v5.6M381.7 222.1h5.6M384.5 219.3v5.6M386.6 222.1h5.6M389.4 219.3v5.6M388.8 222.9h5.6M391.6 220.1v5.6M393.5 224.7h5.6M396.3 221.9v5.6M396.7 225.6h5.6M399.5 222.8v5.6M399.0 226.7h5.6M401.8 223.9v5.6M404.5 226.5h5.6M407.3 223.7v5.6M407.3 228.1h5.6M410.1 225.3v5.6M408.3 230.9h5.6M411.1 228.1v5.6" stroke="#d0121e" stroke-width="1.20" fill="none" opacity="1.00"/>
<polyline points="413.5,232.5 415.0,234.5 440.4,234.5 441.0,238.8 475.0,239.2" fill="none" stroke="#d0121e" stroke-width="2.00" stroke-linejoin="round" stroke-linecap="round" opacity="1.00" />
<path d="M411.5 234.4h6.8M414.9 231.0v6.8M414.7 234.5h6.8M418.1 231.1v6.8M416.9 234.6h6.8M420.3 231.2v6.8M419.8 234.7h6.8M423.2 231.3v6.8M424.4 234.7h6.8M427.8 231.3v6.8M426.1 234.6h6.8M429.5 231.2v6.8M429.6 234.4h6.8M433.0 231.0v6.8M433.5 234.3h6.8M436.9 230.9v6.8M435.7 234.7h6.8M439.1 231.3v6.8M437.6 237.6h6.8M441.0 234.2v6.8M440.7 238.8h6.8M444.1 235.4v6.8M443.8 238.9h6.8M447.2 235.5v6.8M446.5 239.0h6.8M449.9 235.6v6.8M450.6 238.8h6.8M454.0 235.4v6.8M453.2 239.1h6.8M456.6 235.7v6.8M455.4 239.0h6.8M458.8 235.6v6.8M460.4 238.8h6.8M463.8 235.4v6.8M462.9 238.9h6.8M466.3 235.5v6.8M467.4 239.4h6.8M470.8 236.0v6.8M471.0 239.0h6.8M474.4 235.6v6.8" stroke="#d0121e" stroke-width="1.30" fill="none" opacity="1.00"/>
<polyline points="475.0,239.2 498.5,239.2" fill="none" stroke="#d0121e" stroke-width="1.20" stroke-linejoin="round" stroke-linecap="round" opacity="1.00" />
<path d="M485.2 239.2h6.4M488.4 236.0v6.4" stroke="#d0121e" stroke-width="1.3" fill="none"/>
<path d="M493.9 239.2h6.4M497.1 236.0v6.4" stroke="#d0121e" stroke-width="1.3" fill="none"/>
<text x="276.7" y="36.3" font-size="10.20" font-weight="bold" text-anchor="start" fill="#111" textLength="160.6" lengthAdjust="spacingAndGlyphs"  stroke="#111" stroke-width="0.30">Responders—experimental arm</text>
<path d="M321.5 40.5L310.2 56.1M309.6 56.9L320.1 52.2M309.6 56.9L310.8 45.5" stroke="#0a0a0a" stroke-width="3.2" fill="none" stroke-linecap="round" stroke-linejoin="round"/>
<text x="286.7" y="92.2" font-size="10.20" font-weight="bold" text-anchor="start" fill="#111" textLength="128.6" lengthAdjust="spacingAndGlyphs"  stroke="#111" stroke-width="0.30">Responders—control arm</text>
<path d="M330.8 95.6L319.1 113.0M318.5 113.8L328.8 108.8M318.5 113.8L319.3 102.3" stroke="#0a0a0a" stroke-width="3.2" fill="none" stroke-linecap="round" stroke-linejoin="round"/>
<text x="283.6" y="167.6" font-size="10.20" font-weight="bold" text-anchor="start" fill="#111" textLength="180.0" lengthAdjust="spacingAndGlyphs"  stroke="#111" stroke-width="0.30">Nonresponders—experimental arm</text>
<path d="M330.0 175.0L319.2 191.7M318.7 192.5L328.9 187.3M318.7 192.5L319.3 181.0" stroke="#0a0a0a" stroke-width="3.2" fill="none" stroke-linecap="round" stroke-linejoin="round"/>
<text x="162.7" y="246.2" font-size="10.20" font-weight="bold" text-anchor="start" fill="#111" textLength="148.8" lengthAdjust="spacingAndGlyphs"  stroke="#111" stroke-width="0.30">Nonresponders—control arm</text>
<path d="M286.2 228.7L295.8 204.6M296.2 203.7L287.2 210.8M296.2 203.7L297.8 215.1" stroke="#0a0a0a" stroke-width="3.2" fill="none" stroke-linecap="round" stroke-linejoin="round"/>
<polyline points="69.4,384.4 91.0,384.4" fill="none" stroke="#3a3020" stroke-width="1.30" stroke-linejoin="round" stroke-linecap="round" opacity="1.00" />
<polyline points="97.0,384.4 122.0,384.4" fill="none" stroke="#3a3020" stroke-width="1.30" stroke-linejoin="round" stroke-linecap="round" opacity="1.00" />
<path d="M84.8 384.4h6.4M88.0 381.2v6.4" stroke="#4a3420" stroke-width="1.3" fill="none"/>
<path d="M94.8 384.4h6.4M98.0 381.2v6.4" stroke="#4a3420" stroke-width="1.3" fill="none"/>
<path d="M96.8 384.4h6.4M100.0 381.2v6.4" stroke="#4a3420" stroke-width="1.3" fill="none"/>
<path d="M98.8 384.4h6.4M102.0 381.2v6.4" stroke="#4a3420" stroke-width="1.3" fill="none"/>
<path d="M100.8 384.4h6.4M104.0 381.2v6.4" stroke="#4a3420" stroke-width="1.3" fill="none"/>
<path d="M103.3 384.4h6.4M106.5 381.2v6.4" stroke="#4a3420" stroke-width="1.3" fill="none"/>
<path d="M106.8 384.4h6.4M110.0 381.2v6.4" stroke="#4a3420" stroke-width="1.3" fill="none"/>
<path d="M109.8 384.4h6.4M113.0 381.2v6.4" stroke="#4a3420" stroke-width="1.3" fill="none"/>
<path d="M112.8 384.4h6.4M116.0 381.2v6.4" stroke="#4a3420" stroke-width="1.3" fill="none"/>
<polyline points="117.5,384.5 119.2,387.2 125.4,391.0 130.0,396.5" fill="none" stroke="#157262" stroke-width="1.60" stroke-linejoin="round" stroke-linecap="round" opacity="1.00" />
<polyline points="134.6,402.6 140.8,405.2 146.9,411.5 151.5,417.0 157.7,425.0 160.0,428.0 162.3,434.0 163.8,442.0 166.9,450.8 173.0,460.0 179.2,469.2 185.4,478.5 191.5,486.2 195.4,494.0 196.2,498.5 203.8,506.2 210.0,513.1 216.2,516.2 223.1,517.7 226.9,526.2 234.6,532.3 239.2,537.7 246.9,545.4 254.6,548.5 257.7,556.2 265.4,563.8 270.0,567.7 276.2,573.1 280.8,576.9 285.4,586.2 290.0,592.3 302.3,592.3 304.6,596.9 308.5,603.8 316.2,610.0 320.8,614.6 334.6,614.6 337.7,624.6 342.3,630.8 346.0,636.2" fill="none" stroke="#157262" stroke-width="1.60" stroke-linejoin="round" stroke-linecap="round" opacity="1.00" />
<path d="M115.5 385.9h6.0M118.5 382.9v6.0M119.3 389.2h6.0M122.3 386.2v6.0M122.5 392.0h6.0M125.5 389.0v6.0M125.2 394.5h6.0M128.2 391.5v6.0M128.2 398.3h6.0M131.2 395.3v6.0M131.4 402.2h6.0M134.4 399.2v6.0M133.2 403.6h6.0M136.2 400.6v6.0M137.1 405.2h6.0M140.1 402.2v6.0M141.5 409.6h6.0M144.5 406.6v6.0M142.6 409.8h6.0M145.6 406.8v6.0M146.2 414.2h6.0M149.2 411.2v6.0M148.5 416.5h6.0M151.5 413.5v6.0M151.9 421.1h6.0M154.9 418.1v6.0M153.1 422.9h6.0M156.1 419.9v6.0M157.4 429.5h6.0M160.4 426.5v6.0M157.5 431.1h6.0M160.5 428.1v6.0M159.1 433.7h6.0M162.1 430.7v6.0M160.4 439.0h6.0M163.4 436.0v6.0M161.1 443.0h6.0M164.1 440.0v6.0M162.7 445.2h6.0M165.7 442.2v6.0M164.3 451.3h6.0M167.3 448.3v6.0M165.9 454.8h6.0M168.9 451.8v6.0M169.6 459.6h6.0M172.6 456.6v6.0M170.8 462.1h6.0M173.8 459.1v6.0M173.2 464.7h6.0M176.2 461.7v6.0M175.9 467.5h6.0M178.9 464.5v6.0M179.2 473.4h6.0M182.2 470.4v6.0M181.5 477.8h6.0M184.5 474.8v6.0M183.1 479.5h6.0M186.1 476.5v6.0M185.2 482.3h6.0M188.2 479.3v6.0M188.6 487.0h6.0M191.6 484.0v6.0M190.0 489.5h6.0M193.0 486.5v6.0M192.1 492.4h6.0M195.1 489.4v6.0M193.2 496.3h6.0M196.2 493.3v6.0M196.4 501.4h6.0M199.4 498.4v6.0M199.4 505.4h6.0M202.4 502.4v6.0M202.1 507.8h6.0M205.1 504.8v6.0M204.1 509.9h6.0M207.1 506.9v6.0M207.2 513.4h6.0M210.2 510.4v6.0M210.3 515.0h6.0M213.3 512.0v6.0M216.1 517.2h6.0M219.1 514.2v6.0M219.0 517.4h6.0M222.0 514.4v6.0M221.1 520.9h6.0M224.1 517.9v6.0M223.0 525.2h6.0M226.0 522.2v6.0M227.2 528.5h6.0M230.2 525.5v6.0M229.1 530.6h6.0M232.1 527.6v6.0M232.2 532.6h6.0M235.2 529.6v6.0M235.2 536.6h6.0M238.2 533.6v6.0M237.1 538.5h6.0M240.1 535.5v6.0M242.0 542.9h6.0M245.0 539.9v6.0M243.6 544.9h6.0M246.6 541.9v6.0M249.3 547.0h6.0M252.3 544.0v6.0M250.4 547.6h6.0M253.4 544.6v6.0M253.4 552.5h6.0M256.4 549.5v6.0M254.6 555.4h6.0M257.6 552.4v6.0M258.0 559.5h6.0M261.0 556.5v6.0M260.1 561.2h6.0M263.1 558.2v6.0M262.3 563.8h6.0M265.3 560.8v6.0M267.6 568.3h6.0M270.6 565.3v6.0M269.9 570.6h6.0M272.9 567.6v6.0M272.3 572.9h6.0M275.3 569.9v6.0M275.7 575.2h6.0M278.7 572.2v6.0M279.5 579.6h6.0M282.5 576.6v6.0M281.4 583.1h6.0M284.4 580.1v6.0M282.8 587.3h6.0M285.8 584.3v6.0M286.1 591.4h6.0M289.1 588.4v6.0M288.9 592.3h6.0M291.9 589.3v6.0M294.6 591.8h6.0M297.6 588.8v6.0M298.9 592.0h6.0M301.9 589.0v6.0M299.1 592.2h6.0M302.1 589.2v6.0M302.3 599.4h6.0M305.3 596.4v6.0M304.6 603.7h6.0M307.6 600.7v6.0M307.3 606.1h6.0M310.3 603.1v6.0M308.7 606.2h6.0M311.7 603.2v6.0M314.7 610.9h6.0M317.7 607.9v6.0M317.1 613.3h6.0M320.1 610.3v6.0M317.8 614.9h6.0M320.8 611.9v6.0M322.8 615.0h6.0M325.8 612.0v6.0M330.6 614.1h6.0M333.6 611.1v6.0M332.3 616.6h6.0M335.3 613.6v6.0M332.9 619.5h6.0M335.9 616.5v6.0M333.7 623.0h6.0M336.7 620.0v6.0M336.2 625.7h6.0M339.2 622.7v6.0M338.1 630.2h6.0M341.1 627.2v6.0M342.7 634.6h6.0M345.7 631.6v6.0" stroke="#157262" stroke-width="1.30" fill="none" opacity="1.00"/>
<polyline points="346.0,636.2 377.5,636.2 377.5,644.2 425.0,644.2 425.0,653.7 460.0,653.7" fill="none" stroke="#157262" stroke-width="1.10" stroke-linejoin="round" stroke-linecap="round" opacity="1.00" stroke-dasharray="9 4"/>
<path d="M346.8 636.2h6.4M350.0 633.0v6.4" stroke="#157262" stroke-width="1.3" fill="none"/>
<path d="M354.8 636.2h6.4M358.0 633.0v6.4" stroke="#157262" stroke-width="1.3" fill="none"/>
<path d="M368.8 636.2h6.4M372.0 633.0v6.4" stroke="#157262" stroke-width="1.3" fill="none"/>
<path d="M397.8 644.2h6.4M401.0 641.0v6.4" stroke="#157262" stroke-width="1.3" fill="none"/>
<path d="M423.8 653.7h6.4M427.0 650.5v6.4" stroke="#157262" stroke-width="1.3" fill="none"/>
<path d="M455.8 653.7h6.4M459.0 650.5v6.4" stroke="#157262" stroke-width="1.3" fill="none"/>
<polyline points="121.0,384.8 125.4,386.5 133.0,389.5 140.8,393.4 148.5,398.0 156.2,402.6 163.8,408.0 171.5,412.6 179.2,418.0 188.5,424.4 196.2,432.3 203.8,436.9 211.5,441.5 219.2,445.4 228.5,451.5 240.4,460.8 255.8,470.0 271.2,479.5 281.9,484.6" fill="none" stroke="#5e2c0c" stroke-width="5.60" stroke-linejoin="round" stroke-linecap="round" opacity="1.00" />
<polyline points="281.9,484.6 289.6,490.5 301.9,493.5 307.3,496.9 315.0,502.3 322.7,506.9 325.8,510.0" fill="none" stroke="#5e2c0c" stroke-width="4.40" stroke-linejoin="round" stroke-linecap="round" opacity="1.00" />
<path d="M119.3 385.1h6.0M122.3 382.1v6.0M122.8 387.2h6.0M125.8 384.2v6.0M125.2 387.2h6.0M128.2 384.2v6.0M130.2 390.0h6.0M133.2 387.0v6.0M132.6 390.6h6.0M135.6 387.6v6.0M134.1 391.6h6.0M137.1 388.6v6.0M137.6 393.2h6.0M140.6 390.2v6.0M141.1 395.9h6.0M144.1 392.9v6.0M144.0 397.3h6.0M147.0 394.3v6.0M147.6 399.4h6.0M150.6 396.4v6.0M148.9 399.7h6.0M151.9 396.7v6.0M154.5 403.0h6.0M157.5 400.0v6.0M155.2 404.5h6.0M158.2 401.5v6.0M159.5 406.4h6.0M162.5 403.4v6.0M162.1 408.5h6.0M165.1 405.5v6.0M164.4 409.6h6.0M167.4 406.6v6.0M166.7 412.5h6.0M169.7 409.5v6.0M171.6 414.5h6.0M174.6 411.5v6.0M174.5 416.5h6.0M177.5 413.5v6.0M177.2 418.4h6.0M180.2 415.4v6.0M179.7 420.3h6.0M182.7 417.3v6.0M181.7 422.0h6.0M184.7 419.0v6.0M183.2 422.5h6.0M186.2 419.5v6.0M187.9 426.8h6.0M190.9 423.8v6.0M189.5 428.5h6.0M192.5 425.5v6.0M192.8 432.3h6.0M195.8 429.3v6.0M194.2 433.5h6.0M197.2 430.5v6.0M198.4 434.6h6.0M201.4 431.6v6.0M202.0 437.4h6.0M205.0 434.4v6.0M204.0 439.6h6.0M207.0 436.6v6.0M206.5 440.6h6.0M209.5 437.6v6.0M209.2 442.3h6.0M212.2 439.3v6.0M212.6 443.4h6.0M215.6 440.4v6.0M216.7 445.3h6.0M219.7 442.3v6.0M218.8 447.4h6.0M221.8 444.4v6.0M221.6 448.6h6.0M224.6 445.6v6.0M224.4 450.8h6.0M227.4 447.8v6.0M228.6 454.0h6.0M231.6 451.0v6.0M231.0 455.0h6.0M234.0 452.0v6.0M232.4 456.9h6.0M235.4 453.9v6.0M234.3 458.8h6.0M237.3 455.8v6.0M236.9 460.4h6.0M239.9 457.4v6.0M241.2 463.4h6.0M244.2 460.4v6.0M244.5 464.7h6.0M247.5 461.7v6.0M248.0 467.3h6.0M251.0 464.3v6.0M250.5 468.7h6.0M253.5 465.7v6.0M251.4 468.9h6.0M254.4 465.9v6.0M256.7 472.0h6.0M259.7 469.0v6.0M259.3 473.8h6.0M262.3 470.8v6.0M262.9 475.5h6.0M265.9 472.5v6.0M265.1 477.1h6.0M268.1 474.1v6.0M266.5 479.3h6.0M269.5 476.3v6.0M271.3 481.7h6.0M274.3 478.7v6.0M275.1 483.1h6.0M278.1 480.1v6.0M277.0 483.8h6.0M280.0 480.8v6.0M280.4 486.7h6.0M283.4 483.7v6.0M282.7 487.3h6.0M285.7 484.3v6.0M284.3 488.6h6.0M287.3 485.6v6.0M289.0 491.0h6.0M292.0 488.0v6.0M292.9 491.6h6.0M295.9 488.6v6.0M293.9 491.8h6.0M296.9 488.8v6.0M299.5 493.8h6.0M302.5 490.8v6.0M302.2 496.3h6.0M305.2 493.3v6.0M303.4 496.4h6.0M306.4 493.4v6.0M307.1 498.9h6.0M310.1 495.9v6.0M310.9 501.1h6.0M313.9 498.1v6.0M312.5 502.8h6.0M315.5 499.8v6.0M314.9 504.6h6.0M317.9 501.6v6.0M317.8 506.6h6.0M320.8 503.6v6.0M321.5 509.7h6.0M324.5 506.7v6.0" stroke="#5e2c0c" stroke-width="1.30" fill="none" opacity="1.00"/>
<polyline points="325.8,510.0 344.2,510.0 348.8,512.3 355.0,516.2 363.5,518.5 366.9,525.0 379.2,525.0 379.2,528.8 406.9,528.8 406.9,536.8 467.2,536.8 467.2,557.9 479.3,557.9 479.3,590.7 513.0,590.7" fill="none" stroke="#5e2c0c" stroke-width="1.40" stroke-linejoin="round" stroke-linecap="round" opacity="1.00" />
<polyline points="344.2,510.0 348.8,512.3 355.0,516.2" fill="none" stroke="#5e2c0c" stroke-width="3.60" stroke-linejoin="round" stroke-linecap="round" opacity="1.00" />
<path d="M325.6 510.0h6.8M329.0 506.6v6.8" stroke="#5e2c0c" stroke-width="1.5" fill="none"/>
<path d="M328.6 510.0h6.8M332.0 506.6v6.8" stroke="#5e2c0c" stroke-width="1.5" fill="none"/>
<path d="M331.6 510.0h6.8M335.0 506.6v6.8" stroke="#5e2c0c" stroke-width="1.5" fill="none"/>
<path d="M334.6 510.0h6.8M338.0 506.6v6.8" stroke="#5e2c0c" stroke-width="1.5" fill="none"/>
<path d="M337.6 510.0h6.8M341.0 506.6v6.8" stroke="#5e2c0c" stroke-width="1.5" fill="none"/>
<path d="M339.6 510.0h6.8M343.0 506.6v6.8" stroke="#5e2c0c" stroke-width="1.5" fill="none"/>
<path d="M341.8 511.1h6.8M345.2 507.7v6.8M343.6 511.6h6.8M347.0 508.2v6.8M344.8 512.0h6.8M348.2 508.6v6.8M347.3 512.6h6.8M350.7 509.2v6.8M348.8 514.0h6.8M352.2 510.6v6.8M350.7 514.7h6.8M354.1 511.3v6.8" stroke="#5e2c0c" stroke-width="1.50" fill="none" opacity="1.00"/>
<path d="M361.4 518.0h6.4M364.6 514.8v6.4" stroke="#5e2c0c" stroke-width="1.3" fill="none"/>
<path d="M366.8 525.0h6.4M370.0 521.8v6.4" stroke="#5e2c0c" stroke-width="1.3" fill="none"/>
<path d="M370.8 525.0h6.4M374.0 521.8v6.4" stroke="#5e2c0c" stroke-width="1.3" fill="none"/>
<path d="M381.8 528.8h6.4M385.0 525.6v6.4" stroke="#5e2c0c" stroke-width="1.3" fill="none"/>
<path d="M385.8 528.8h6.4M389.0 525.6v6.4" stroke="#5e2c0c" stroke-width="1.3" fill="none"/>
<path d="M389.8 528.8h6.4M393.0 525.6v6.4" stroke="#5e2c0c" stroke-width="1.3" fill="none"/>
<path d="M393.8 528.8h6.4M397.0 525.6v6.4" stroke="#5e2c0c" stroke-width="1.3" fill="none"/>
<path d="M400.8 528.8h6.4M404.0 525.6v6.4" stroke="#5e2c0c" stroke-width="1.3" fill="none"/>
<path d="M408.8 536.8h6.4M412.0 533.6v6.4" stroke="#5e2c0c" stroke-width="1.3" fill="none"/>
<path d="M414.8 536.8h6.4M418.0 533.6v6.4" stroke="#5e2c0c" stroke-width="1.3" fill="none"/>
<path d="M423.8 536.8h6.4M427.0 533.6v6.4" stroke="#5e2c0c" stroke-width="1.3" fill="none"/>
<path d="M429.8 536.8h6.4M433.0 533.6v6.4" stroke="#5e2c0c" stroke-width="1.3" fill="none"/>
<path d="M432.8 536.8h6.4M436.0 533.6v6.4" stroke="#5e2c0c" stroke-width="1.3" fill="none"/>
<path d="M437.8 536.8h6.4M441.0 533.6v6.4" stroke="#5e2c0c" stroke-width="1.3" fill="none"/>
<path d="M440.8 536.8h6.4M444.0 533.6v6.4" stroke="#5e2c0c" stroke-width="1.3" fill="none"/>
<path d="M446.8 536.8h6.4M450.0 533.6v6.4" stroke="#5e2c0c" stroke-width="1.3" fill="none"/>
<path d="M469.2 557.9h6.4M472.4 554.7v6.4" stroke="#5e2c0c" stroke-width="1.3" fill="none"/>
<path d="M480.4 590.7h6.4M483.6 587.5v6.4" stroke="#5e2c0c" stroke-width="1.3" fill="none"/>
<path d="M485.6 590.7h6.4M488.8 587.5v6.4" stroke="#5e2c0c" stroke-width="1.3" fill="none"/>
<path d="M509.0 590.7h6.4M512.2 587.5v6.4" stroke="#5e2c0c" stroke-width="1.3" fill="none"/>
<polyline points="72.9,383.8 78.7,391.5 82.5,401.2 85.9,406.9 89.2,412.7 90.7,420.4 92.6,430.0 95.1,440.7 96.7,446.0 97.8,454.5 98.9,464.1 99.9,472.7 101.0,481.2 101.5,489.7 102.6,498.3 105.3,504.7 107.4,510.0 108.9,515.7 111.0,526.3 112.6,537.0 113.7,547.7 117.4,556.2 121.7,564.7 127.0,575.4 131.5,584.2 135.4,591.9 140.8,599.6 145.4,605.8 150.0,611.9 154.6,618.1 159.2,624.2 163.8,628.8 168.5,631.9 180.0,640.0 195.4,651.5" fill="none" stroke="#1c1ce6" stroke-width="3.00" stroke-linejoin="round" stroke-linecap="round" opacity="1.00" />
<polyline points="195.4,651.5 210.8,660.0 226.2,663.8 241.5,667.7 256.9,671.5 270.4,675.4 285.8,676.9 301.2,677.7 316.5,678.5 331.9,680.8 344.4,682.5 358.8,683.0 373.3,683.7 387.7,684.5 402.1,685.4 416.5,686.5 431.0,687.4 462.0,687.4" fill="none" stroke="#1c1ce6" stroke-width="1.80" stroke-linejoin="round" stroke-linecap="round" opacity="1.00" />
<polyline points="105.3,504.7 107.4,510.0 108.9,515.7 111.0,526.3 112.6,537.0 113.7,547.7 117.4,556.2 121.7,564.7 127.0,575.4 131.5,584.2 135.4,591.9 140.8,599.6 145.4,605.8 150.0,611.9 154.6,618.1 159.2,624.2 163.8,628.8 168.5,631.9 180.0,640.0 195.4,651.5" fill="none" stroke="#1c1ce6" stroke-width="4.60" stroke-linejoin="round" stroke-linecap="round" opacity="1.00" />
<path d="M72.8 387.7h6.0M75.8 384.7v6.0M74.3 389.7h6.0M77.3 386.7v6.0M77.1 394.0h6.0M80.1 391.0v6.0M78.4 399.2h6.0M81.4 396.2v6.0M83.6 407.3h6.0M86.6 404.3v6.0M85.0 411.0h6.0M88.0 408.0v6.0M86.5 415.5h6.0M89.5 412.5v6.0M88.3 422.3h6.0M91.3 419.3v6.0M90.0 430.3h6.0M93.0 427.3v6.0M89.5 432.0h6.0M92.5 429.0v6.0M92.4 440.0h6.0M95.4 437.0v6.0M92.4 442.7h6.0M95.4 439.7v6.0M94.2 448.5h6.0M97.2 445.5v6.0M95.2 456.9h6.0M98.2 453.9v6.0M95.7 462.9h6.0M98.7 459.9v6.0M95.5 465.5h6.0M98.5 462.5v6.0M97.3 471.4h6.0M100.3 468.4v6.0M98.0 477.0h6.0M101.0 474.0v6.0M98.6 485.7h6.0M101.6 482.7v6.0M99.1 489.9h6.0M102.1 486.9v6.0M99.4 494.7h6.0M102.4 491.7v6.0M100.6 500.0h6.0M103.6 497.0v6.0M103.5 508.0h6.0M106.5 505.0v6.0M105.5 513.2h6.0M108.5 510.2v6.0M106.7 519.6h6.0M109.7 516.6v6.0M108.1 523.9h6.0M111.1 520.9v6.0M108.0 528.1h6.0M111.0 525.1v6.0M108.5 533.0h6.0M111.5 530.0v6.0M110.7 542.1h6.0M113.7 539.1v6.0M110.3 546.1h6.0M113.3 543.1v6.0M113.1 552.6h6.0M116.1 549.6v6.0M113.5 554.7h6.0M116.5 551.7v6.0M118.0 563.7h6.0M121.0 560.7v6.0M119.5 566.5h6.0M122.5 563.5v6.0M123.0 574.4h6.0M126.0 571.4v6.0M126.5 579.7h6.0M129.5 576.7v6.0M128.0 583.2h6.0M131.0 580.2v6.0M129.0 586.2h6.0M132.0 583.2v6.0M134.5 595.0h6.0M137.5 592.0v6.0M136.7 597.8h6.0M139.7 594.8v6.0M140.9 603.8h6.0M143.9 600.8v6.0M142.4 606.3h6.0M145.4 603.3v6.0M145.8 610.6h6.0M148.8 607.6v6.0M150.8 617.7h6.0M153.8 614.7v6.0M153.9 620.2h6.0M156.9 617.2v6.0M156.4 624.3h6.0M159.4 621.3v6.0M160.9 629.6h6.0M163.9 626.6v6.0M166.7 633.2h6.0M169.7 630.2v6.0M168.7 634.0h6.0M171.7 631.0v6.0M176.5 639.3h6.0M179.5 636.3v6.0M179.9 642.4h6.0M182.9 639.4v6.0M185.2 646.5h6.0M188.2 643.5v6.0M187.8 648.1h6.0M190.8 645.1v6.0M196.2 653.6h6.0M199.2 650.6v6.0M200.8 656.2h6.0M203.8 653.2v6.0M206.3 659.5h6.0M209.3 656.5v6.0M209.3 660.8h6.0M212.3 657.8v6.0M217.1 662.2h6.0M220.1 659.2v6.0M221.0 663.5h6.0M224.0 660.5v6.0M228.5 665.0h6.0M231.5 662.0v6.0M230.6 665.9h6.0M233.6 662.9v6.0M240.4 667.6h6.0M243.4 664.6v6.0M246.4 668.9h6.0M249.4 665.9v6.0M249.6 670.5h6.0M252.6 667.5v6.0M254.9 672.4h6.0M257.9 669.4v6.0M260.7 673.3h6.0M263.7 670.3v6.0M266.5 675.5h6.0M269.5 672.5v6.0M269.3 675.4h6.0M272.3 672.4v6.0M279.8 676.6h6.0M282.8 673.6v6.0M282.0 676.5h6.0M285.0 673.5v6.0M287.1 677.2h6.0M290.1 674.2v6.0M292.5 677.2h6.0M295.5 674.2v6.0M299.5 678.2h6.0M302.5 675.2v6.0M307.8 678.1h6.0M310.8 675.1v6.0M309.1 678.1h6.0M312.1 675.1v6.0M315.2 678.9h6.0M318.2 675.9v6.0M324.5 679.6h6.0M327.5 676.6v6.0M328.0 680.4h6.0M331.0 677.4v6.0M332.8 681.7h6.0M335.8 678.7v6.0M341.6 682.1h6.0M344.6 679.1v6.0M346.6 683.2h6.0M349.6 680.2v6.0M351.6 682.3h6.0M354.6 679.3v6.0M359.0 683.1h6.0M362.0 680.1v6.0M362.0 683.6h6.0M365.0 680.6v6.0M371.3 684.4h6.0M374.3 681.4v6.0M376.3 684.1h6.0M379.3 681.1v6.0M378.8 684.0h6.0M381.8 681.0v6.0M384.5 684.6h6.0M387.5 681.6v6.0M392.2 685.5h6.0M395.2 682.5v6.0M398.4 685.4h6.0M401.4 682.4v6.0M402.3 685.5h6.0M405.3 682.5v6.0M407.6 686.1h6.0M410.6 683.1v6.0M415.0 687.0h6.0M418.0 684.0v6.0M419.9 686.8h6.0M422.9 683.8v6.0M427.4 687.5h6.0M430.4 684.5v6.0M435.2 687.2h6.0M438.2 684.2v6.0M436.7 687.8h6.0M439.7 684.8v6.0M444.3 687.2h6.0M447.3 684.2v6.0M451.9 687.8h6.0M454.9 684.8v6.0M454.1 686.9h6.0M457.1 683.9v6.0" stroke="#1c1ce6" stroke-width="1.30" fill="none" opacity="1.00"/>
<polyline points="72.9,383.8 78.7,391.5 82.5,401.2 85.9,406.9 89.2,412.7 90.7,420.4 92.6,430.0 95.1,440.7 96.7,446.0 97.8,454.5 98.9,464.1 99.9,472.7 101.0,481.2 101.5,489.7 102.6,498.3 105.3,504.7 107.4,510.0 108.9,526.3 111.0,537.0 111.5,542.3 112.0,553.0 112.6,562.6 113.7,570.0 115.8,577.5 119.2,585.8 125.4,595.0 131.5,604.2 137.7,611.9 145.4,616.5 151.5,624.2 156.2,630.4 163.8,634.2 171.5,637.3 179.2,641.2 188.5,645.8 195.4,648.5 210.8,654.6 226.2,659.2" fill="none" stroke="#d0121e" stroke-width="2.40" stroke-linejoin="round" stroke-linecap="round" opacity="1.00" />
<polyline points="226.2,659.2 241.5,663.8 256.9,668.5 270.4,670.0 285.8,672.3 301.2,673.8 316.5,676.9 331.9,677.8 344.4,677.9 358.8,678.7 373.3,680.8 387.7,682.5 402.1,684.5 416.5,685.4 431.0,686.8 470.5,687.4" fill="none" stroke="#d0121e" stroke-width="2.00" stroke-linejoin="round" stroke-linecap="round" opacity="1.00" />
<polyline points="113.7,570.0 115.8,577.5 119.2,585.8 125.4,595.0 131.5,604.2 137.7,611.9 145.4,616.5 151.5,624.2 156.2,630.4 163.8,634.2 171.5,637.3 179.2,641.2 188.5,645.8 195.4,648.5 210.8,654.6 226.2,659.2" fill="none" stroke="#d0121e" stroke-width="5.00" stroke-linejoin="round" stroke-linecap="round" opacity="1.00" />
<path d="M72.0 387.0h6.0M75.0 384.0v6.0M75.5 390.3h6.0M78.5 387.3v6.0M77.5 396.6h6.0M80.5 393.6v6.0M80.3 401.5h6.0M83.3 398.5v6.0M82.3 406.4h6.0M85.3 403.4v6.0M83.8 409.4h6.0M86.8 406.4v6.0M85.7 412.9h6.0M88.7 409.9v6.0M87.3 417.9h6.0M90.3 414.9v6.0M88.5 424.1h6.0M91.5 421.1v6.0M89.8 429.5h6.0M92.8 426.5v6.0M90.9 433.7h6.0M93.9 430.7v6.0M91.5 438.5h6.0M94.5 435.5v6.0M93.8 445.7h6.0M96.8 442.7v6.0M94.8 450.8h6.0M97.8 447.8v6.0M94.9 455.4h6.0M97.9 452.4v6.0M95.6 464.1h6.0M98.6 461.1v6.0M96.1 467.6h6.0M99.1 464.6v6.0M96.7 469.7h6.0M99.7 466.7v6.0M97.3 476.5h6.0M100.3 473.5v6.0M97.8 484.6h6.0M100.8 481.6v6.0M98.1 487.4h6.0M101.1 484.4v6.0M98.6 494.5h6.0M101.6 491.5v6.0M99.2 496.4h6.0M102.2 493.4v6.0M101.3 502.3h6.0M104.3 499.3v6.0M104.2 509.9h6.0M107.2 506.9v6.0M104.4 514.6h6.0M107.4 511.6v6.0M105.1 520.0h6.0M108.1 517.0v6.0M106.1 523.5h6.0M109.1 520.5v6.0M107.1 530.4h6.0M110.1 527.4v6.0M107.3 535.2h6.0M110.3 532.2v6.0M107.7 539.7h6.0M110.7 536.7v6.0M108.9 546.5h6.0M111.9 543.5v6.0M108.8 551.6h6.0M111.8 548.6v6.0M109.6 558.8h6.0M112.6 555.8v6.0M110.0 562.2h6.0M113.0 559.2v6.0M110.4 566.5h6.0M113.4 563.5v6.0M110.5 571.3h6.0M113.5 568.3v6.0M112.7 576.4h6.0M115.7 573.4v6.0M114.9 583.4h6.0M117.9 580.4v6.0M115.9 585.6h6.0M118.9 582.6v6.0M119.0 590.2h6.0M122.0 587.2v6.0M121.9 594.9h6.0M124.9 591.9v6.0M126.6 600.6h6.0M129.6 597.6v6.0M130.8 606.6h6.0M133.8 603.6v6.0M133.4 609.6h6.0M136.4 606.6v6.0M137.9 614.1h6.0M140.9 611.1v6.0M139.3 614.2h6.0M142.3 611.2v6.0M143.9 618.2h6.0M146.9 615.2v6.0M148.8 624.4h6.0M151.8 621.4v6.0M151.4 627.6h6.0M154.4 624.6v6.0M155.9 631.7h6.0M158.9 628.7v6.0M159.2 634.0h6.0M162.2 631.0v6.0M163.5 635.9h6.0M166.5 632.9v6.0M169.5 637.2h6.0M172.5 634.2v6.0M173.5 639.6h6.0M176.5 636.6v6.0M181.9 644.3h6.0M184.9 641.3v6.0M184.7 645.1h6.0M187.7 642.1v6.0M189.5 647.1h6.0M192.5 644.1v6.0M194.9 649.5h6.0M197.9 646.5v6.0M199.4 651.6h6.0M202.4 648.6v6.0M202.8 652.5h6.0M205.8 649.5v6.0M211.0 655.9h6.0M214.0 652.9v6.0M215.1 656.8h6.0M218.1 653.8v6.0M222.6 658.4h6.0M225.6 655.4v6.0M225.2 659.1h6.0M228.2 656.1v6.0M231.1 661.9h6.0M234.1 658.9v6.0M234.0 662.6h6.0M237.0 659.6v6.0M239.0 664.0h6.0M242.0 661.0v6.0M247.8 666.3h6.0M250.8 663.3v6.0M252.0 667.9h6.0M255.0 664.9v6.0M255.1 668.3h6.0M258.1 665.3v6.0M263.1 669.1h6.0M266.1 666.1v6.0M268.5 670.3h6.0M271.5 667.3v6.0M270.8 670.2h6.0M273.8 667.2v6.0M277.9 671.5h6.0M280.9 668.5v6.0M285.4 672.3h6.0M288.4 669.3v6.0M287.8 673.3h6.0M290.8 670.3v6.0M295.1 673.6h6.0M298.1 670.6v6.0M297.3 674.1h6.0M300.3 671.1v6.0M303.6 675.2h6.0M306.6 672.2v6.0M309.9 676.5h6.0M312.9 673.5v6.0M313.4 676.8h6.0M316.4 673.8v6.0M319.3 677.6h6.0M322.3 674.6v6.0M326.7 677.4h6.0M329.7 674.4v6.0M330.4 677.5h6.0M333.4 674.5v6.0M336.9 677.6h6.0M339.9 674.6v6.0M339.8 678.1h6.0M342.8 675.1v6.0M345.2 677.6h6.0M348.2 674.6v6.0M351.3 678.4h6.0M354.3 675.4v6.0M355.8 678.3h6.0M358.8 675.3v6.0M364.6 679.5h6.0M367.6 676.5v6.0M367.7 680.6h6.0M370.7 677.6v6.0M373.3 681.5h6.0M376.3 678.5v6.0M377.5 681.7h6.0M380.5 678.7v6.0M383.8 682.4h6.0M386.8 679.4v6.0M388.9 682.7h6.0M391.9 679.7v6.0M394.4 683.2h6.0M397.4 680.2v6.0M398.6 684.5h6.0M401.6 681.5v6.0M403.8 685.3h6.0M406.8 682.3v6.0M412.6 685.0h6.0M415.6 682.0v6.0M415.2 685.2h6.0M418.2 682.2v6.0M419.8 686.4h6.0M422.8 683.4v6.0M425.8 686.3h6.0M428.8 683.3v6.0M430.9 687.0h6.0M433.9 684.0v6.0M436.8 687.4h6.0M439.8 684.4v6.0M440.4 687.3h6.0M443.4 684.3v6.0M449.6 687.4h6.0M452.6 684.4v6.0M452.8 686.8h6.0M455.8 683.8v6.0M457.9 687.0h6.0M460.9 684.0v6.0M465.4 687.4h6.0M468.4 684.4v6.0" stroke="#d0121e" stroke-width="1.30" fill="none" opacity="1.00"/>
<path d="M207.4 655.0h7.2M211.0 651.4v7.2" stroke="#d0121e" stroke-width="1.6" fill="none"/>
<path d="M210.4 656.0h7.2M214.0 652.4v7.2" stroke="#d0121e" stroke-width="1.6" fill="none"/>
<path d="M222.4 659.5h7.2M226.0 655.9v7.2" stroke="#d0121e" stroke-width="1.6" fill="none"/>
<path d="M224.4 660.0h7.2M228.0 656.4v7.2" stroke="#d0121e" stroke-width="1.6" fill="none"/>
<path d="M228.4 661.5h7.2M232.0 657.9v7.2" stroke="#d0121e" stroke-width="1.6" fill="none"/>
<path d="M231.4 662.5h7.2M235.0 658.9v7.2" stroke="#d0121e" stroke-width="1.6" fill="none"/>
<path d="M241.4 664.8h7.2M245.0 661.2v7.2" stroke="#d0121e" stroke-width="1.6" fill="none"/>
<path d="M251.4 668.0h7.2M255.0 664.4v7.2" stroke="#d0121e" stroke-width="1.6" fill="none"/>
<path d="M273.4 671.0h7.2M277.0 667.4v7.2" stroke="#d0121e" stroke-width="1.6" fill="none"/>
<path d="M279.4 672.0h7.2M283.0 668.4v7.2" stroke="#d0121e" stroke-width="1.6" fill="none"/>
<path d="M296.4 673.8h7.2M300.0 670.2v7.2" stroke="#d0121e" stroke-width="1.6" fill="none"/>
<path d="M309.4 676.5h7.2M313.0 672.9v7.2" stroke="#d0121e" stroke-width="1.6" fill="none"/>
<path d="M336.4 677.9h7.2M340.0 674.3v7.2" stroke="#d0121e" stroke-width="1.6" fill="none"/>
<path d="M341.4 677.9h7.2M345.0 674.3v7.2" stroke="#d0121e" stroke-width="1.6" fill="none"/>
<path d="M348.4 678.2h7.2M352.0 674.6v7.2" stroke="#d0121e" stroke-width="1.6" fill="none"/>
<path d="M201.4 658.0h7.2M205.0 654.4v7.2" stroke="#1c1ce6" stroke-width="1.6" fill="none"/>
<path d="M234.4 667.0h7.2M238.0 663.4v7.2" stroke="#1c1ce6" stroke-width="1.6" fill="none"/>
<path d="M248.4 670.5h7.2M252.0 666.9v7.2" stroke="#1c1ce6" stroke-width="1.6" fill="none"/>
<path d="M271.4 675.0h7.2M275.0 671.4v7.2" stroke="#1c1ce6" stroke-width="1.6" fill="none"/>
<path d="M286.4 677.0h7.2M290.0 673.4v7.2" stroke="#1c1ce6" stroke-width="1.6" fill="none"/>
<path d="M299.4 677.8h7.2M303.0 674.2v7.2" stroke="#1c1ce6" stroke-width="1.6" fill="none"/>
<path d="M312.4 678.5h7.2M316.0 674.9v7.2" stroke="#1c1ce6" stroke-width="1.6" fill="none"/>
<path d="M339.4 682.0h7.2M343.0 678.4v7.2" stroke="#1c1ce6" stroke-width="1.6" fill="none"/>
<path d="M346.4 682.6h7.2M350.0 679.0v7.2" stroke="#1c1ce6" stroke-width="1.6" fill="none"/>
<path d="M361.4 683.2h7.2M365.0 679.6v7.2" stroke="#1c1ce6" stroke-width="1.6" fill="none"/>
<path d="M376.4 684.0h7.2M380.0 680.4v7.2" stroke="#1c1ce6" stroke-width="1.6" fill="none"/>
<path d="M397.4 685.4h7.2M401.0 681.8v7.2" stroke="#1c1ce6" stroke-width="1.6" fill="none"/>
<path d="M416.4 686.5h7.2M420.0 682.9v7.2" stroke="#1c1ce6" stroke-width="1.6" fill="none"/>
<path d="M426.4 687.3h7.2M430.0 683.7v7.2" stroke="#1c1ce6" stroke-width="1.6" fill="none"/>
<path d="M458.4 687.4h7.2M462.0 683.8v7.2" stroke="#1c1ce6" stroke-width="1.6" fill="none"/>
<polyline points="72.9,383.8 78.7,391.5 82.5,401.2 85.9,406.9 89.2,412.7 90.7,420.4 92.6,430.0 95.1,440.7 96.7,446.0 97.8,454.5 98.9,464.1 99.9,472.7 101.0,481.2 101.5,489.7 102.6,498.3 105.3,504.7 107.4,510.0" fill="none" stroke="#5a2ad0" stroke-width="3.80" stroke-linejoin="round" stroke-linecap="round" opacity="0.75" />
<path d="M71.3 385.6h6.0M74.3 382.6v6.0M75.6 390.8h6.0M78.6 387.8v6.0M76.1 393.3h6.0M79.1 390.3v6.0M77.9 396.9h6.0M80.9 393.9v6.0M80.8 403.7h6.0M83.8 400.7v6.0M84.0 408.8h6.0M87.0 405.8v6.0M86.9 413.3h6.0M89.9 410.3v6.0M87.0 418.2h6.0M90.0 415.2v6.0M88.5 424.0h6.0M91.5 421.0v6.0M89.1 428.8h6.0M92.1 425.8v6.0M89.9 432.2h6.0M92.9 429.2v6.0M91.9 437.8h6.0M94.9 434.8v6.0M92.5 441.3h6.0M95.5 438.3v6.0M94.3 446.4h6.0M97.3 443.4v6.0M94.9 452.1h6.0M97.9 449.1v6.0M95.1 455.5h6.0M98.1 452.5v6.0M95.6 463.3h6.0M98.6 460.3v6.0M96.7 465.9h6.0M99.7 462.9v6.0M97.0 472.0h6.0M100.0 469.0v6.0M97.6 480.2h6.0M100.6 477.2v6.0M97.4 480.4h6.0M100.4 477.4v6.0M98.5 485.6h6.0M101.5 482.6v6.0M98.4 492.8h6.0M101.4 489.8v6.0M99.2 496.6h6.0M102.2 493.6v6.0M101.7 503.6h6.0M104.7 500.6v6.0M102.6 505.1h6.0M105.6 502.1v6.0" stroke="#d0121e" stroke-width="1.30" fill="none" opacity="1.00"/>
<path d="M70.0 384.6h6.0M73.0 381.6v6.0M76.3 392.3h6.0M79.3 389.3v6.0M82.7 406.3h6.0M85.7 403.3v6.0M86.0 412.9h6.0M89.0 409.9v6.0M87.3 418.4h6.0M90.3 415.4v6.0M90.8 433.2h6.0M93.8 430.2v6.0M92.0 438.1h6.0M95.0 435.1v6.0M93.1 446.1h6.0M96.1 443.1v6.0M95.2 458.4h6.0M98.2 455.4v6.0M96.7 465.9h6.0M99.7 462.9v6.0M97.8 476.9h6.0M100.8 473.9v6.0M98.7 486.8h6.0M101.7 483.8v6.0M98.7 493.8h6.0M101.7 490.8v6.0M102.1 505.8h6.0M105.1 502.8v6.0" stroke="#1c1ce6" stroke-width="1.30" fill="none" opacity="1.00"/>
<text x="242.0" y="443.4" font-size="10.20" font-weight="bold" text-anchor="start" fill="#111" textLength="160.6" lengthAdjust="spacingAndGlyphs"  stroke="#111" stroke-width="0.30">Responders—experimental arm</text>
<path d="M282.8 450.0L282.4 480.0M282.4 481.0L288.3 471.1M282.4 481.0L276.8 471.0" stroke="#0a0a0a" stroke-width="3.2" fill="none" stroke-linecap="round" stroke-linejoin="round"/>
<text x="282.8" y="561.8" font-size="10.20" font-weight="bold" text-anchor="start" fill="#111" textLength="129.8" lengthAdjust="spacingAndGlyphs"  stroke="#111" stroke-width="0.30">Responders—control arm</text>
<path d="M316.2 567.0L299.2 592.3M298.6 593.1L308.9 588.1M298.6 593.1L299.4 581.6" stroke="#0a0a0a" stroke-width="3.2" fill="none" stroke-linecap="round" stroke-linejoin="round"/>
<text x="175.3" y="606.4" font-size="10.20" font-weight="bold" text-anchor="start" fill="#111" textLength="131.6" lengthAdjust="spacingAndGlyphs"  stroke="#111" stroke-width="0.30">Nonresponders—control arm</text>
<path d="M173.4 602.7L150.2 602.7M149.2 602.7L159.2 608.5M149.2 602.7L159.2 597.0" stroke="#0a0a0a" stroke-width="3.2" fill="none" stroke-linecap="round" stroke-linejoin="round"/>
<text x="59.8" y="685.0" font-size="10.20" font-weight="bold" text-anchor="start" fill="#111" textLength="179.2" lengthAdjust="spacingAndGlyphs"  stroke="#111" stroke-width="0.30">Nonresponders—experimental arm</text>
<path d="M123.0 666.5L141.9 623.6M142.3 622.7L133.0 629.5M142.3 622.7L143.5 634.1" stroke="#0a0a0a" stroke-width="3.2" fill="none" stroke-linecap="round" stroke-linejoin="round"/>
</svg>
</body></html>
